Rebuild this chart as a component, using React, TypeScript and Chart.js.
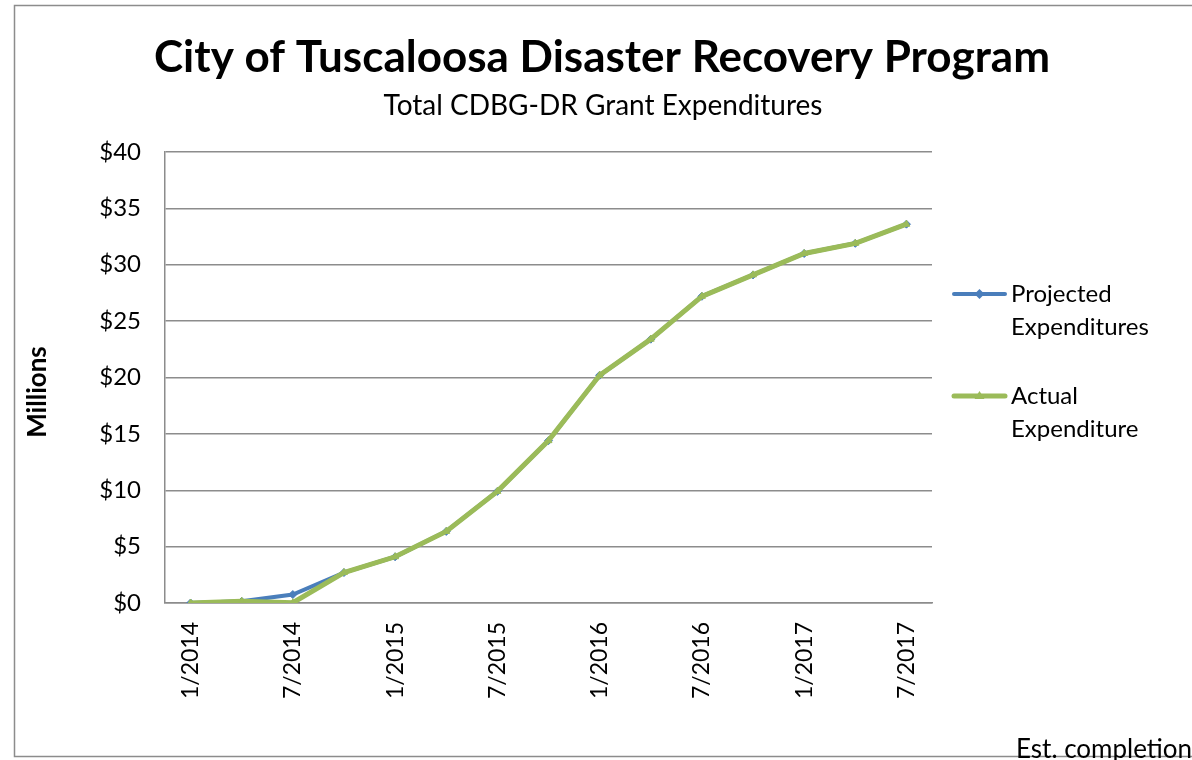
import React, { useEffect, useRef } from "react";
import { Chart, registerables } from "chart.js";

Chart.register(...registerables);

const categories: string[] = [
  "1/2014", "4/2014", "7/2014", "10/2014",
  "1/2015", "4/2015", "7/2015", "10/2015",
  "1/2016", "4/2016", "7/2016", "10/2016",
  "1/2017", "4/2017", "7/2017",
];
const projected: number[] = [0, 0.15, 0.75, 2.7, 4.1, 6.35, 9.9, 14.4, 20.2, 23.4, 27.2, 29.1, 31.0, 31.9, 33.6];
const actual: number[] = [0, 0.15, 0.02, 2.7, 4.1, 6.35, 9.9, 14.4, 20.2, 23.4, 27.2, 29.1, 31.0, 31.9, 33.6];
const yTicks = { min: 0, max: 40, step: 5 };

const TITLE = "City of Tuscaloosa Disaster Recovery Program";
const SUBTITLE = "Total CDBG-DR Grant Expenditures";
const Y_TITLE = "Millions";
const FOOT = "Est. completion";
const SERIES = [
  { name: ["Projected", "Expenditures"], color: "#4A7EBB", style: "rectRot", width: 4 },
  { name: ["Actual", "Expenditure"], color: "#9BBB59", style: "triangle", width: 5 },
];

const FONT = "Lato, 'Open Sans', sans-serif";

const decor = {
  id: "decor",
  afterDraw(chart: any) {
    const ctx = chart.ctx as CanvasRenderingContext2D;
    ctx.save();
    // outer border
    ctx.strokeStyle = "#8c8c8c";
    ctx.lineWidth = 1.5;
    ctx.strokeRect(14.5, 5.5, 1300, 751);
    // title
    ctx.fillStyle = "#000";
    ctx.textAlign = "center";
    ctx.textBaseline = "alphabetic";
    ctx.font = `bold 44px ${FONT}`;
    ctx.fillText(TITLE, 602, 72);
    ctx.font = `28px ${FONT}`;
    ctx.fillText(SUBTITLE, 603, 115);
    // y title
    ctx.save();
    ctx.translate(46, 392);
    ctx.rotate(-Math.PI / 2);
    ctx.font = `bold 26px ${FONT}`;
    ctx.textBaseline = "alphabetic";
    ctx.fillText(Y_TITLE, 0, 0);
    ctx.restore();
    // legend
    ctx.textAlign = "left";
    ctx.textBaseline = "middle";
    ctx.font = `24px ${FONT}`;
    const rows = [294, 396];
    SERIES.forEach((s, i) => {
      const y = rows[i];
      ctx.strokeStyle = s.color;
      ctx.lineWidth = s.width;
      ctx.lineCap = "round";
      ctx.beginPath();
      ctx.moveTo(954, y);
      ctx.lineTo(1005, y);
      ctx.stroke();
      ctx.fillStyle = s.color;
      ctx.beginPath();
      if (s.style === "rectRot") {
        ctx.moveTo(979.5, y - 5);
        ctx.lineTo(984.5, y);
        ctx.lineTo(979.5, y + 5);
        ctx.lineTo(974.5, y);
      } else {
        ctx.moveTo(979.5, y - 5);
        ctx.lineTo(984.5, y + 3);
        ctx.lineTo(974.5, y + 3);
      }
      ctx.closePath();
      ctx.fill();
      ctx.fillStyle = "#000";
      ctx.fillText(s.name[0], 1011, y);
      ctx.fillText(s.name[1], 1011, y + 33);
    });
    // footnote
    ctx.textBaseline = "alphabetic";
    ctx.font = `26px ${FONT}`;
    ctx.fillText(FOOT, 1016, 758);
    ctx.restore();
  },
};

export default function App() {
  const ref = useRef<HTMLCanvasElement>(null);
  useEffect(() => {
    if (!ref.current) return;
    const chart = new Chart(ref.current, {
      type: "line",
      data: {
        labels: categories,
        datasets: [
          {
            label: SERIES[0].name.join(" "),
            data: projected,
            borderColor: SERIES[0].color,
            backgroundColor: SERIES[0].color,
            borderWidth: SERIES[0].width,
            pointStyle: "rectRot",
            pointRadius: 4,
            pointBorderWidth: 1,
            order: 2,
            tension: 0,
          },
          {
            label: SERIES[1].name.join(" "),
            data: actual,
            borderColor: SERIES[1].color,
            backgroundColor: SERIES[1].color,
            borderWidth: SERIES[1].width,
            pointStyle: "triangle",
            pointRadius: 4,
            pointBorderWidth: 1,
            order: 1,
            tension: 0,
          },
        ],
      },
      options: {
        animation: false,
        responsive: false,
        devicePixelRatio: 1,
        layout: { padding: { top: 152, right: 260, left: 0, bottom: 0 } },
        plugins: {
          legend: { display: false },
          title: { display: false },
          tooltip: { enabled: false },
        },
        scales: {
          x: {
            type: "category",
            offset: true,
            grid: { display: false, drawTicks: false },
            border: { display: true, color: "#8c8c8c", width: 1.5 },
            ticks: {
              autoSkip: false,
              maxRotation: 90,
              minRotation: 90,
              padding: 19,
              color: "#000",
              font: { family: FONT, size: 23 },
              callback: (_v: any, i: number) => (i % 2 === 0 ? categories[i] : ""),
            },
            afterFit: (s: any) => {
              s.height = 157;
            },
          },
          y: {
            min: yTicks.min,
            max: yTicks.max,
            grid: { color: "#8c8c8c", lineWidth: 1.5, drawTicks: false },
            border: { display: true, color: "#8c8c8c", width: 1.5 },
            ticks: {
              stepSize: yTicks.step,
              padding: 24,
              color: "#000",
              font: { family: FONT, size: 24 },
              callback: (v: any) => "$" + v,
            },
            afterFit: (s: any) => {
              s.width = 165;
            },
          },
        },
      },
      plugins: [decor],
    });
    return () => chart.destroy();
  }, []);
  return (
    <div style={{ position: "absolute", left: 0, top: 0, width: 1192, height: 760, background: "#fff" }}>
      <canvas ref={ref} width={1192} height={760} />
    </div>
  );
}
